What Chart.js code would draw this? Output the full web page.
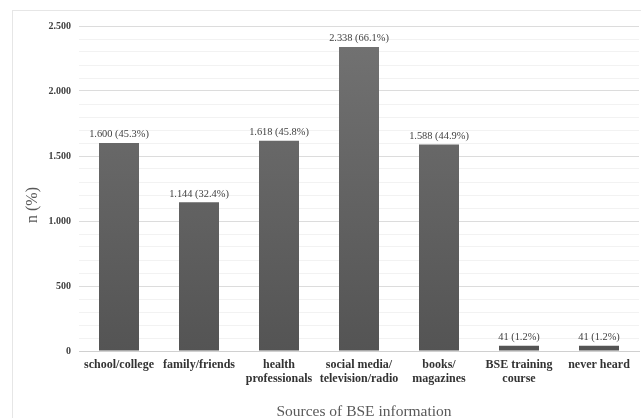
<!DOCTYPE html>
<html lang="en">
<head>
  <meta charset="UTF-8">
  <title>Sources of BSE information</title>
  <script src="https://cdn.jsdelivr.net/npm/chart.js"></script>
  <style>
    html, body { margin:0; padding:0; background:#fff; }
    canvas { display:block; }
  </style>
</head>
<body>
  <canvas id="bseChart" width="641" height="418"></canvas>

  <script>
    // data
    const categories = [
      'school/college',
      'family/friends',
      ['health', 'professionals'],
      ['social media/', 'television/radio'],
      ['books/', 'magazines'],
      ['BSE training', 'course'],
      'never heard'
    ];
    const counts = [1600, 1144, 1618, 2338, 1588, 41, 41];
    const percents = ['45.3', '32.4', '45.8', '66.1', '44.9', '1.2', '1.2'];
    const yMax = 2500;

    const serif = '"Liberation Serif", "Times New Roman", serif';

    // 1600 -> "1.600"
    function fmt(v) {
      return String(v).replace(/\B(?=(\d{3})+(?!\d))/g, '.');
    }

    const frame = {
      id: 'frame',
      beforeDraw(chart) {
        const c = chart.ctx;
        c.save();
        c.fillStyle = '#fff';
        c.fillRect(0, 0, chart.width, chart.height);
        c.strokeStyle = '#e6e6e6';
        c.lineWidth = 1;
        c.strokeRect(12.5, 10.5, chart.width + 20, chart.height + 20);
        c.restore();
      },
      afterDraw(chart) {
        const c = chart.ctx;
        c.save();
        c.fillStyle = '#595959';
        c.textAlign = 'center';
        c.textBaseline = 'middle';
        c.font = '15.5px ' + serif;
        c.fillText('Sources of BSE information', 364, 412);
        c.translate(33, 205);
        c.rotate(-Math.PI / 2);
        c.font = '16px ' + serif;
        c.fillText('n (%)', 0, 0);
        c.restore();
      }
    };

    const valueLabels = {
      id: 'valueLabels',
      afterDatasetsDraw(chart) {
        const c = chart.ctx;
        const meta = chart.getDatasetMeta(0);
        c.save();
        c.fillStyle = '#404040';
        c.font = '10.4px ' + serif;
        c.textAlign = 'center';
        c.textBaseline = 'middle';
        meta.data.forEach((bar, i) => {
          c.fillText(fmt(counts[i]) + ' (' + percents[i] + '%)', bar.x, bar.y - 8.5);
        });
        c.restore();
      }
    };

    function barFill(ctx) {
      const area = ctx.chart.chartArea;
      if (!area) return '#5f5f5f';
      const g = ctx.chart.ctx.createLinearGradient(0, area.top, 0, area.bottom);
      g.addColorStop(0, '#737373');
      g.addColorStop(1, '#545454');
      return g;
    }

    new Chart(document.getElementById('bseChart'), {
      type: 'bar',
      data: {
        labels: categories,
        datasets: [{
          data: counts,
          backgroundColor: barFill,
          borderWidth: 0,
          barPercentage: 0.5,
          categoryPercentage: 1.0
        }]
      },
      options: {
        responsive: false,
        animation: false,
        events: [],
        layout: { padding: { left: 0, right: 2, top: 26, bottom: 0 } },
        plugins: { legend: { display: false }, tooltip: { enabled: false } },
        scales: {
          x: {
            grid: { display: false, drawTicks: false },
            border: { color: '#d0d0d0' },
            ticks: {
              color: '#333',
              font: { family: serif, size: 12, weight: 'bold', lineHeight: 1.18 },
              padding: 7,
              maxRotation: 0,
              autoSkip: false
            },
            afterFit(scale) { scale.height = 67; }
          },
          y: {
            min: 0,
            max: yMax,
            border: { display: false },
            grid: {
              drawTicks: false,
              color: ctx => ctx.tick && ctx.tick.value === 0 ? '#d0d0d0'
                : (ctx.tick && ctx.tick.value % 500 === 0 ? '#dcdcdc' : '#f2f2f2')
            },
            ticks: {
              stepSize: 100,
              autoSkip: false,
              color: '#404040',
              font: { family: serif, size: 10, weight: 'bold' },
              padding: 8,
              callback: v => v % 500 === 0 ? fmt(v) : ''
            },
            afterFit(scale) { scale.width = 79; }
          }
        }
      },
      plugins: [frame, valueLabels]
    });
  </script>
</body>
</html>
